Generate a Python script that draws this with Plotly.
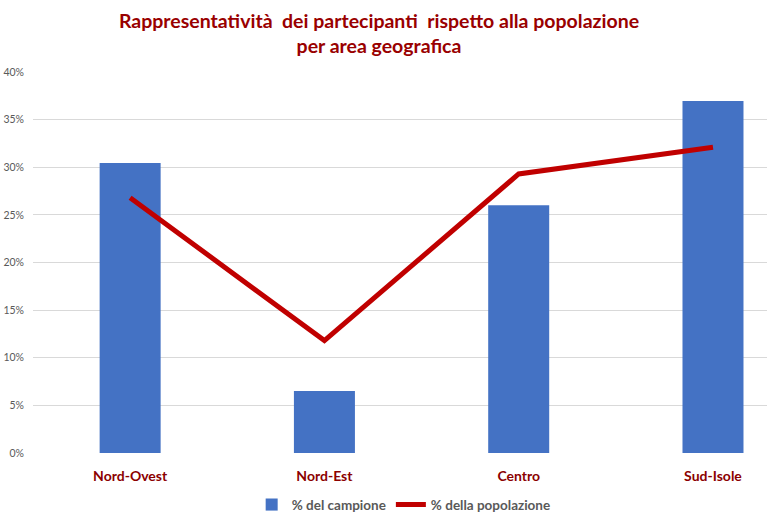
import plotly.graph_objects as go

categories = ["Nord-Ovest", "Nord-Est", "Centro", "Sud-Isole"]
campione = [30.45, 6.5, 26.0, 36.95]
popolazione = [26.8, 11.8, 29.3, 32.1]
tick_vals = [0, 5, 10, 15, 20, 25, 30, 35, 40]
tick_text = [f"{v}%" for v in tick_vals]

fig = go.Figure()
fig.add_trace(go.Bar(
    x=categories, y=campione, name="% del campione",
    marker=dict(color="#4472C4", line=dict(width=0)), width=0.314,
))
fig.add_trace(go.Scatter(
    x=categories, y=popolazione, name="% della popolazione", mode="lines",
    line=dict(color="#C00000", width=5),
))

fig.update_layout(
    width=767, height=518,
    paper_bgcolor="white", plot_bgcolor="white",
    margin=dict(l=33, r=0, t=72, b=65, autoexpand=False),
    title=dict(
        text="Rappresentatività  dei partecipanti  rispetto alla popolazione<br>per area geografica",
        x=379 / 767, xanchor="center", xref="container",
        y=1 - 28 / 518, yanchor="middle", yref="container",
        font=dict(family="Lato", size=19.5, color="#990000", weight="bold"),
    ),
    xaxis=dict(
        type="category", range=[-0.5, 3.278], automargin=False,
        tickfont=dict(family="Lato", size=14, color="#8B0000", weight="bold"),
        ticklabelstandoff=13, showgrid=False, showline=False, zeroline=False,
    ),
    yaxis=dict(
        range=[0, 40], tickvals=tick_vals, ticktext=tick_text, automargin=False,
        tickfont=dict(family="Lato", size=10.5, color="#595959"),
        gridcolor="#D9D9D9", gridwidth=1, zeroline=False, showline=False,
        ticklabelstandoff=8,
    ),
    legend=dict(
        orientation="h", x=0.505, xanchor="center", y=-0.136, yanchor="middle",
        font=dict(family="Lato", size=13.5, color="#595959", weight="bold"),
        itemwidth=30,
    ),
    showlegend=True,
)

fig.write_html("out.html")
